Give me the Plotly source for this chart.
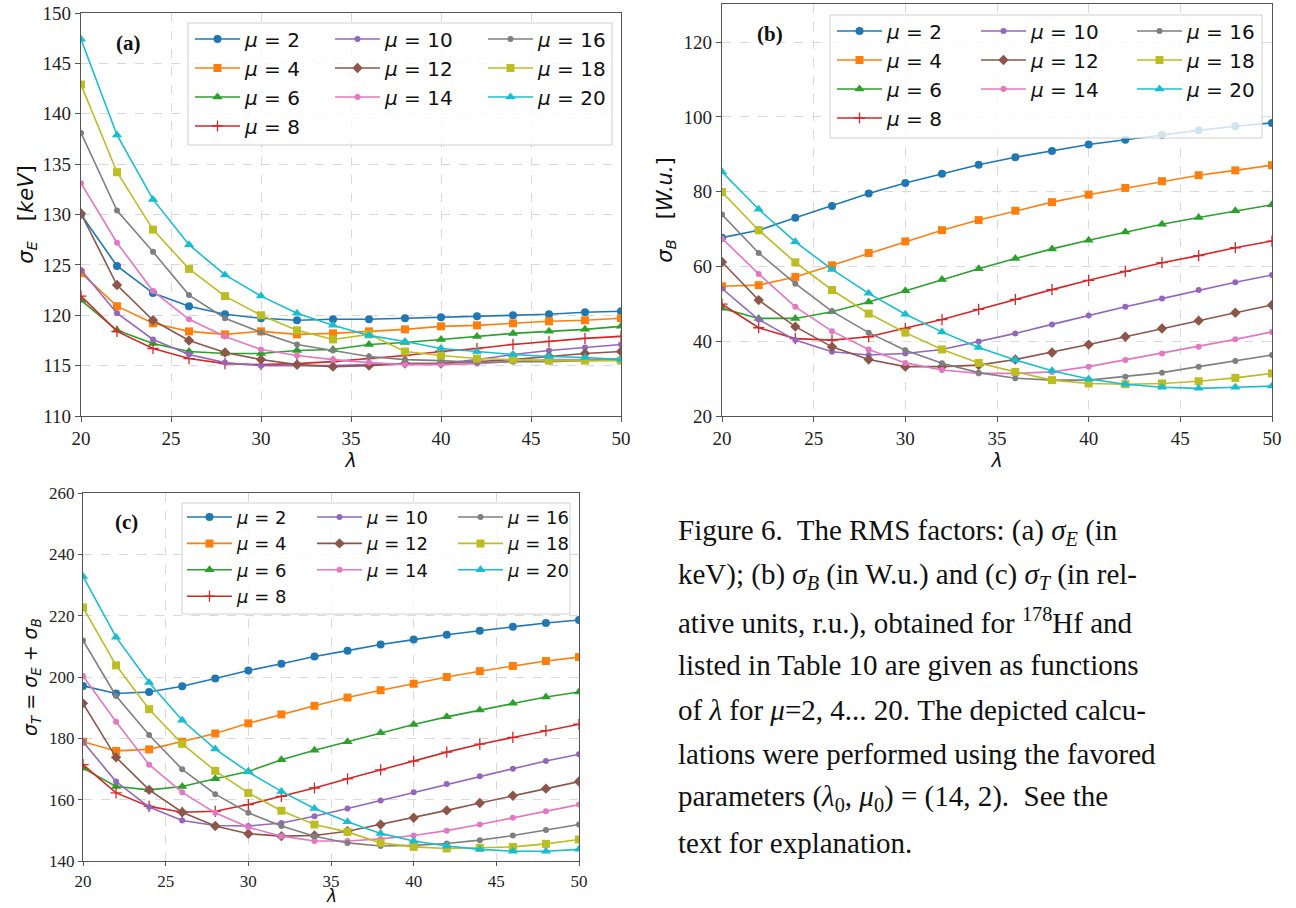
import plotly.graph_objects as go

LAM = [20, 22, 24, 26, 28, 30, 32, 34, 36, 38, 40, 42, 44, 46, 48, 50]
MU = [2, 4, 6, 8, 10, 12, 14, 16, 18, 20]

# panel (a): sigma_E [keV]
SIG_E_2 = [130.0, 124.9, 122.2, 120.9, 120.1, 119.7, 119.5, 119.6, 119.6, 119.7, 119.8, 119.9, 120.0, 120.1, 120.3, 120.4]
SIG_E_4 = [124.2, 120.9, 119.2, 118.4, 118.1, 118.4, 118.1, 118.2, 118.4, 118.6, 118.9, 119.0, 119.2, 119.4, 119.5, 119.7]
SIG_E_6 = [121.5, 118.5, 117.2, 116.4, 116.2, 116.2, 116.5, 116.6, 117.1, 117.3, 117.6, 117.9, 118.2, 118.4, 118.6, 118.9]
SIG_E_8 = [121.9, 118.4, 116.7, 115.7, 115.2, 115.1, 115.2, 115.4, 115.7, 116.0, 116.4, 116.7, 117.1, 117.4, 117.7, 117.9]
SIG_E_10 = [124.5, 120.2, 117.6, 116.1, 115.3, 115.0, 115.0, 115.0, 115.1, 115.2, 115.2, 115.6, 116.1, 116.5, 116.8, 117.1]
SIG_E_12 = [130.1, 123.0, 119.5, 117.5, 116.3, 115.6, 115.1, 114.9, 115.0, 115.2, 115.2, 115.4, 115.6, 115.9, 116.2, 116.4]
SIG_E_14 = [133.1, 127.2, 122.4, 119.6, 117.9, 116.6, 116.0, 115.6, 115.3, 115.1, 115.1, 115.2, 115.4, 115.6, 115.6, 115.7]
SIG_E_16 = [138.1, 130.4, 126.3, 122.0, 119.7, 118.3, 117.1, 116.5, 115.9, 115.6, 115.5, 115.3, 115.4, 115.4, 115.5, 115.6]
SIG_E_18 = [142.9, 134.2, 128.5, 124.6, 121.9, 120.0, 118.5, 117.6, 118.1, 116.4, 116.0, 115.7, 115.6, 115.5, 115.5, 115.5]
SIG_E_20 = [147.4, 137.9, 131.5, 127.0, 124.0, 121.9, 120.2, 119.0, 118.0, 117.4, 116.7, 116.4, 116.1, 115.9, 115.8, 115.6]

# panel (b): sigma_B [W.u.]
SIG_B_2 = [67.7, 69.7, 73.0, 76.2, 79.5, 82.3, 84.8, 87.2, 89.2, 90.9, 92.6, 93.9, 95.2, 96.4, 97.5, 98.4]
SIG_B_4 = [54.7, 55.0, 57.2, 60.3, 63.6, 66.7, 69.7, 72.4, 74.9, 77.2, 79.2, 81.0, 82.8, 84.4, 85.7, 87.1]
SIG_B_6 = [48.8, 46.1, 46.1, 47.9, 50.5, 53.5, 56.5, 59.4, 62.1, 64.7, 67.0, 69.2, 71.3, 73.1, 74.9, 76.5]
SIG_B_8 = [49.9, 43.6, 40.7, 40.3, 41.2, 43.4, 45.8, 48.5, 51.2, 53.8, 56.3, 58.7, 61.0, 62.9, 65.0, 66.8]
SIG_B_10 = [54.1, 45.8, 40.3, 37.2, 36.3, 36.7, 37.8, 39.9, 42.1, 44.5, 46.9, 49.2, 51.4, 53.7, 55.8, 57.7]
SIG_B_12 = [61.2, 51.0, 43.9, 38.5, 35.1, 33.2, 33.2, 33.6, 35.1, 37.0, 39.1, 41.2, 43.4, 45.5, 47.6, 49.7]
SIG_B_14 = [67.5, 58.0, 49.2, 42.7, 37.8, 34.2, 32.3, 31.4, 31.4, 31.8, 33.2, 35.0, 36.7, 38.5, 40.5, 42.5]
SIG_B_16 = [73.9, 63.6, 55.4, 48.0, 42.3, 37.6, 34.1, 31.6, 30.1, 29.6, 29.6, 30.5, 31.6, 33.2, 34.7, 36.3]
SIG_B_18 = [79.9, 69.7, 61.1, 53.7, 47.4, 42.3, 37.8, 34.2, 31.8, 29.6, 28.7, 28.5, 28.7, 29.3, 30.2, 31.4]
SIG_B_20 = [85.3, 75.3, 66.6, 59.2, 52.8, 47.2, 42.5, 38.3, 35.0, 32.1, 29.9, 28.5, 27.7, 27.4, 27.7, 28.0]

# panel (c): sigma_T = sigma_E + sigma_B
SIG_T_2 = [197.1, 194.6, 195.1, 197.0, 199.5, 202.1, 204.3, 206.7, 208.6, 210.6, 212.2, 213.8, 215.1, 216.4, 217.6, 218.6]
SIG_T_4 = [178.9, 175.9, 176.4, 178.9, 181.6, 184.9, 187.8, 190.6, 193.3, 195.7, 197.8, 200.0, 201.9, 203.6, 205.2, 206.5]
SIG_T_6 = [170.3, 164.3, 163.2, 164.3, 166.8, 169.2, 173.0, 176.1, 178.9, 181.8, 184.5, 187.0, 189.2, 191.4, 193.5, 195.1]
SIG_T_8 = [171.4, 162.2, 157.8, 155.9, 156.2, 158.4, 161.1, 163.8, 166.8, 169.7, 172.6, 175.5, 178.1, 180.3, 182.5, 184.6]
SIG_T_10 = [178.9, 165.9, 157.6, 153.2, 151.6, 151.4, 152.4, 154.6, 157.1, 159.7, 162.4, 165.1, 167.6, 170.1, 172.6, 174.8]
SIG_T_12 = [191.4, 173.8, 163.2, 155.9, 151.4, 148.9, 148.1, 148.3, 149.7, 151.9, 154.1, 156.5, 158.9, 161.3, 163.6, 165.9]
SIG_T_14 = [200.3, 185.4, 171.4, 162.4, 155.7, 151.0, 148.1, 146.5, 146.5, 147.2, 148.3, 149.9, 151.9, 154.1, 156.2, 158.4]
SIG_T_16 = [211.9, 193.8, 181.1, 169.9, 161.8, 155.7, 151.4, 148.1, 145.9, 144.9, 145.1, 145.7, 146.8, 148.3, 150.1, 151.9]
SIG_T_18 = [222.7, 203.8, 189.5, 178.2, 169.4, 162.2, 156.4, 151.9, 149.5, 145.9, 144.6, 144.1, 144.3, 144.6, 145.6, 147.0]
SIG_T_20 = [232.8, 213.0, 198.2, 185.9, 176.5, 169.0, 162.7, 157.1, 152.8, 149.0, 146.5, 144.9, 143.8, 143.2, 143.2, 143.8]

SIG_E = [SIG_E_2, SIG_E_4, SIG_E_6, SIG_E_8, SIG_E_10, SIG_E_12, SIG_E_14, SIG_E_16, SIG_E_18, SIG_E_20]
SIG_B = [SIG_B_2, SIG_B_4, SIG_B_6, SIG_B_8, SIG_B_10, SIG_B_12, SIG_B_14, SIG_B_16, SIG_B_18, SIG_B_20]
SIG_T = [SIG_T_2, SIG_T_4, SIG_T_6, SIG_T_8, SIG_T_10, SIG_T_12, SIG_T_14, SIG_T_16, SIG_T_18, SIG_T_20]

COLORS = ["#1f77b4", "#ff7f0e", "#2ca02c", "#d62728", "#9467bd",
          "#8c564b", "#e377c2", "#7f7f7f", "#bcbd22", "#17becf"]
SYMBOLS = ["circle", "square", "triangle-up", "cross-thin", "circle",
           "diamond", "circle", "circle", "square", "triangle-up"]
SIZES = [8, 8, 9, 8, 6, 8, 6, 6, 8, 9]

W, H = 1296, 908


def px(x):
    return x / W


def py(y):
    return 1 - y / H


# panel geometry (pixels); titles given as axis titles or as annotations (xpos / ypos)
PANELS = [
    dict(x0=81, x1=621, y0=13, y1=416, yr=[110, 150], dt=5, title="<i>σ</i><sub><i>E</i></sub>   [<i>keV</i>]",
         legrows=[39, 68, 97, 126], legcols=[195, 335, 488], box=[188, 23, 612, 145], lfs=20,
         label="(a)", lab=(128, 43), tfs=19, xst=0, yst=3, xpos=None, ypos=None, tl=5),
    dict(x0=722, x1=1272, y0=4, y1=416, yr=[20, 130.2], dt=20, title="<i>σ</i><sub><i>B</i></sub>   [<i>W.u.</i>]",
         legrows=[31, 61, 90, 119], legcols=[837, 981, 1137], box=[830, 15, 1262, 138], lfs=20,
         label="(b)", lab=(770, 34), tfs=19, xst=2, yst=5, xpos=None, ypos=None, tl=5),
    dict(x0=83, x1=579, y0=493, y1=861, yr=[140, 260], dt=20,
         title="<i>σ</i><sub><i>T</i></sub> = <i>σ</i><sub><i>E</i></sub> + <i>σ</i><sub><i>B</i></sub>",
         legrows=[517, 544, 571, 597], legcols=[187, 317, 458], box=[182, 503, 570, 614], lfs=18,
         label="(c)", lab=(126, 522), tfs=17, xst=7, yst=2, xpos=(331, 907), ypos=(31, 677), tl=4),
]

DATA = [SIG_E, SIG_B, SIG_T]

fig = go.Figure()
layout = dict(width=W, height=H, margin=dict(l=0, r=0, t=0, b=0, autoexpand=False),
              paper_bgcolor="white", plot_bgcolor="white", showlegend=True)
shapes = []
annotations = []

COLGROUPS = [[0, 1, 2, 3], [4, 5, 6], [7, 8, 9]]
XT_FONT = dict(family="DejaVu Sans", size=19, color="#111")
YT_FONT = dict(family="DejaVu Sans", size=21, color="#111")

for p, (P, series) in enumerate(zip(PANELS, DATA)):
    sfx = "" if p == 0 else str(p + 1)
    xa, ya = "x" + sfx, "y" + sfx
    axstyle = dict(showline=True, linecolor="#555555", linewidth=1.2, mirror=True,
                   ticks="outside", ticklen=P["tl"], tickcolor="#555555",
                   showgrid=True, gridcolor="#d9d9d9", griddash="dash", gridwidth=1,
                   zeroline=False, tickfont=dict(family="Liberation Serif", size=P["tfs"], color="#222"))
    xtitle = dict(text="<i>λ</i>", font=XT_FONT, standoff=P["xst"]) if P["xpos"] is None else dict(text="")
    ytitle = dict(text=P["title"], font=YT_FONT, standoff=P["yst"]) if P["ypos"] is None else dict(text="")
    layout["xaxis" + sfx] = dict(domain=[px(P["x0"]), px(P["x1"])], anchor=ya, range=[20, 50],
                                 tickmode="linear", tick0=20, dtick=5, title=xtitle, **axstyle)
    layout["yaxis" + sfx] = dict(domain=[py(P["y1"]), py(P["y0"])], anchor=xa, range=P["yr"],
                                 tickmode="linear", tick0=P["yr"][0], dtick=P["dt"], title=ytitle, **axstyle)
    if P["xpos"] is not None:
        annotations.append(dict(text="<i>λ</i>", xref="paper", yref="paper", x=px(P["xpos"][0]),
                                y=py(P["xpos"][1]), xanchor="center", yanchor="bottom", borderpad=0,
                                showarrow=False, font=dict(family="DejaVu Sans", size=17, color="#111")))
    if P["ypos"] is not None:
        annotations.append(dict(text=P["title"], xref="paper", yref="paper", x=px(P["ypos"][0]),
                                y=py(P["ypos"][1]), xanchor="center", yanchor="middle", textangle=-90,
                                showarrow=False, font=dict(family="DejaVu Sans", size=19, color="#111")))
    # legends, one per column
    for c, grp in enumerate(COLGROUPS):
        lname = "legend" + ("" if p * 3 + c == 0 else str(p * 3 + c + 1))
        lh = 1.3 * P["lfs"] + 3
        layout[lname] = dict(x=px(P["legcols"][c] - 5), y=py(P["legrows"][0] - lh / 2 - 5),
                             xanchor="left", yanchor="top", bgcolor="rgba(0,0,0,0)",
                             borderwidth=0, itemwidth=45,
                             font=dict(family="DejaVu Sans", size=P["lfs"], color="#111"))
        for i in grp:
            fig.add_trace(go.Scatter(
                x=LAM, y=series[i], xaxis=xa, yaxis=ya, mode="lines+markers",
                name=f"<i>μ</i> = {MU[i]}", legend=lname,
                line=dict(color=COLORS[i], width=1.6),
                marker=dict(symbol=SYMBOLS[i], size=SIZES[i], color=COLORS[i],
                            line=dict(color=COLORS[i], width=1.3 if SYMBOLS[i] == "cross-thin" else 0)),
            ))
    bx = P["box"]
    shapes.append(dict(type="rect", xref="paper", yref="paper", x0=px(bx[0]), x1=px(bx[2]),
                       y0=py(bx[3]), y1=py(bx[1]), line=dict(color="#d0d0d0", width=1),
                       fillcolor="rgba(255,255,255,0.8)", layer="above"))
    annotations.append(dict(text="<b>" + P["label"] + "</b>", xref="paper", yref="paper",
                            x=px(P["lab"][0]), y=py(P["lab"][1]), xanchor="center", yanchor="middle",
                            showarrow=False, font=dict(family="Liberation Serif", size=21, color="#111")))

CAPTION = [
    "Figure 6.  The RMS factors: (a) <i>σ</i><sub><i>E</i></sub> (in",
    "keV); (b) <i>σ</i><sub><i>B</i></sub> (in W.u.) and (c) <i>σ</i><sub><i>T</i></sub> (in rel-",
    "ative units, r.u.), obtained for <sup>178</sup>Hf and",
    "listed in Table 10 are given as functions",
    "of <i>λ</i> for <i>μ</i>=2, 4... 20. The depicted calcu-",
    "lations were performed using the favored",
    "parameters (<i>λ</i><sub>0</sub>, <i>μ</i><sub>0</sub>) = (14, 2).  See the",
    "text for explanation.",
]
CAP_Y = [532, 576, 621, 665, 710, 754, 798, 843]
for t, yy in zip(CAPTION, CAP_Y):
    annotations.append(dict(text=t, xref="paper", yref="paper", x=px(676), y=py(yy),
                            xanchor="left", yanchor="middle", showarrow=False, align="left",
                            font=dict(family="Liberation Serif", size=29, color="#111")))

layout["shapes"] = shapes
layout["annotations"] = annotations
fig.update_layout(**layout)
fig.write_html("out.html")
